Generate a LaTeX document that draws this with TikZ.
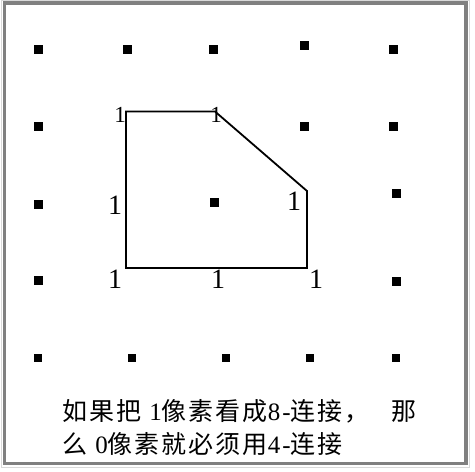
\documentclass[tikz,border=0pt]{standalone}
\usepackage{fontspec}
\setmainfont{Liberation Serif}
\newfontfamily\cjk[LetterSpace=8]{Noto Sans CJK SC}
\newfontfamily\capserif[LetterSpace=8]{Liberation Serif}
\begin{document}
\begin{tikzpicture}[x=1pt,y=-1pt,
  dot/.style={fill=black,draw=none,minimum size=9pt,inner sep=0pt,outer sep=0pt,rectangle},
  sdot/.style={dot,minimum size=8pt},
  onelab/.style={inner sep=0pt,font=\fontsize{28pt}{28pt}\selectfont},
  onesmall/.style={inner sep=0pt,font=\fontsize{23pt}{23pt}\selectfont},
  caption/.style={inner sep=0pt,anchor=base west,font=\fontsize{25pt}{25pt}\selectfont\capserif},
  shape line/.style={draw=black,line width=1.8pt,line join=miter}]
\useasboundingbox (0,0) rectangle (475,472);
\fill[white] (0,0) rectangle (475,472);
% frame
\draw[black!50,line width=3.5pt] (4.5,3) rectangle (466,463.5);
\draw[black!15,line width=1pt] (1,0.5) rectangle (469.5,467);
% dots row 1
\node[dot] (d11) at (38,49) {};
\node[dot] (d12) at (127,49) {};
\node[dot] (d13) at (213,49) {};
\node[dot] (d14) at (304,45) {};
\node[dot] (d15) at (393,49) {};
% row 2
\node[dot] (d21) at (38,126) {};
\node[dot] (d24) at (304,126) {};
\node[dot] (d25) at (393,126) {};
% row 3
\node[dot] (d31) at (38,204) {};
\node[dot] (d33) at (214,202) {};
\node[dot] (d35) at (396,193) {};
% row 4
\node[dot] (d41) at (38,280) {};
\node[dot] (d45) at (396,281) {};
% row 5
\node[sdot] (d51) at (38,358) {};
\node[sdot] (d52) at (132,358) {};
\node[sdot] (d53) at (226,358) {};
\node[sdot] (d54) at (310,358) {};
\node[sdot] (d55) at (396,358) {};
% polygon corners
\coordinate (pa) at (126,111.5);
\coordinate (pb) at (215,111.5);
\coordinate (pc) at (307,191);
\coordinate (pd) at (307,268);
\coordinate (pe) at (126,268);
\draw[shape line] (pa) -- (pb) -- (pc) -- (pd) -- (pe) -- cycle;
% labels
\node[onesmall] (l1) at (120,115) {1};
\node[onesmall] (l2) at (216,115) {1};
\node[onelab] (l3) at (115,205) {1};
\node[onelab] (l4) at (294,201) {1};
\node[onelab] (l5) at (115,279) {1};
\node[onelab] (l6) at (218,279) {1};
\node[onelab] (l7) at (316,279) {1};
% caption
\node[caption] (t1) at (62,420) {{\cjk 如果把} 1{\cjk 像素看成}8-{\cjk 连接，}\hspace{22pt}{\cjk 那}};
\node[caption] (t2) at (62,453) {{\cjk 么} 0{\cjk 像素就必须用}4-{\cjk 连接}};
\end{tikzpicture}
\end{document}
